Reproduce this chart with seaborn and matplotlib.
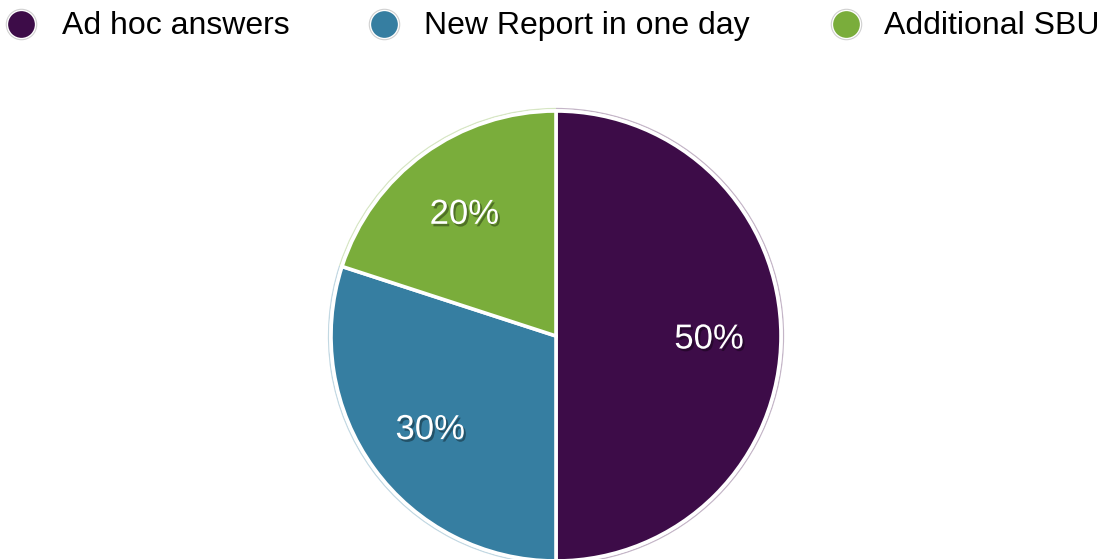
import matplotlib
matplotlib.use("Agg")
import matplotlib.pyplot as plt
import matplotlib.patheffects as pe
import matplotlib.transforms as mtransforms
import seaborn as sns

# Share of requests by category
categories = ["Ad hoc answers", "New Report in one day", "Additional SBU"]
shares = [50, 30, 20]
colors = ["#3d0c48", "#367ea1", "#7aad3b"]

sns.set_theme(style="white")
plt.rcParams["font.family"] = ["Liberation Sans", "DejaVu Sans"]

W, H, DPI = 1108, 559, 100
fig = plt.figure(figsize=(W / DPI, H / DPI), dpi=DPI)
fig.patch.set_facecolor("white")

# Pie axes, laid out in pixels: center (556, 336), radius 225
cx, cy, r = 556, 336, 225
pad = 230
ax = fig.add_axes([(cx - pad) / W, (H - cy - pad) / H, 2 * pad / W, 2 * pad / H])

palette = sns.color_palette(colors)

# faint outer ring following each slice
ax.pie(shares, colors=palette, startangle=90, counterclock=False, radius=1.014,
       wedgeprops=dict(width=0.006, alpha=0.3, linewidth=0))

wedges, texts, autotexts = ax.pie(
    shares, colors=palette, startangle=90, counterclock=False, radius=1.0,
    autopct=lambda p: f"{p:.0f}%", pctdistance=0.685,
    wedgeprops=dict(edgecolor="white", linewidth=2.6),
    textprops=dict(color="white", fontsize=25),
)
for t in autotexts:
    t.set_transform(mtransforms.offset_copy(t.get_transform(), fig=fig, x=-1, y=-3, units="dots"))
    t.set_path_effects([pe.withSimplePatchShadow(offset=(1.5, -1.8),
                                                 shadow_rgbFace="black", alpha=0.35)])

ax.set_xlim(-pad / r, pad / r)
ax.set_ylim(-pad / r, pad / r)
ax.set_aspect("equal")
ax.axis("off")

# Legend row across the top
lax = fig.add_axes([0, 0, 1, 1])
lax.set_xlim(0, W)
lax.set_ylim(H, 0)
lax.axis("off")
marker_x = [21, 384, 846]
text_x = [62, 424, 884]
ly = 24
for mx, tx, name, col in zip(marker_x, text_x, categories, palette):
    lax.scatter([mx], [ly], s=480, color="white", edgecolor="#d0d0d0", linewidth=0.8, zorder=2)
    lax.scatter([mx], [ly], s=370, color=col, linewidth=0, zorder=3)
    lax.text(tx, ly + 2, name, fontsize=23, color="black", va="center", ha="left")

fig.savefig("out.png", dpi=DPI, facecolor="white")
